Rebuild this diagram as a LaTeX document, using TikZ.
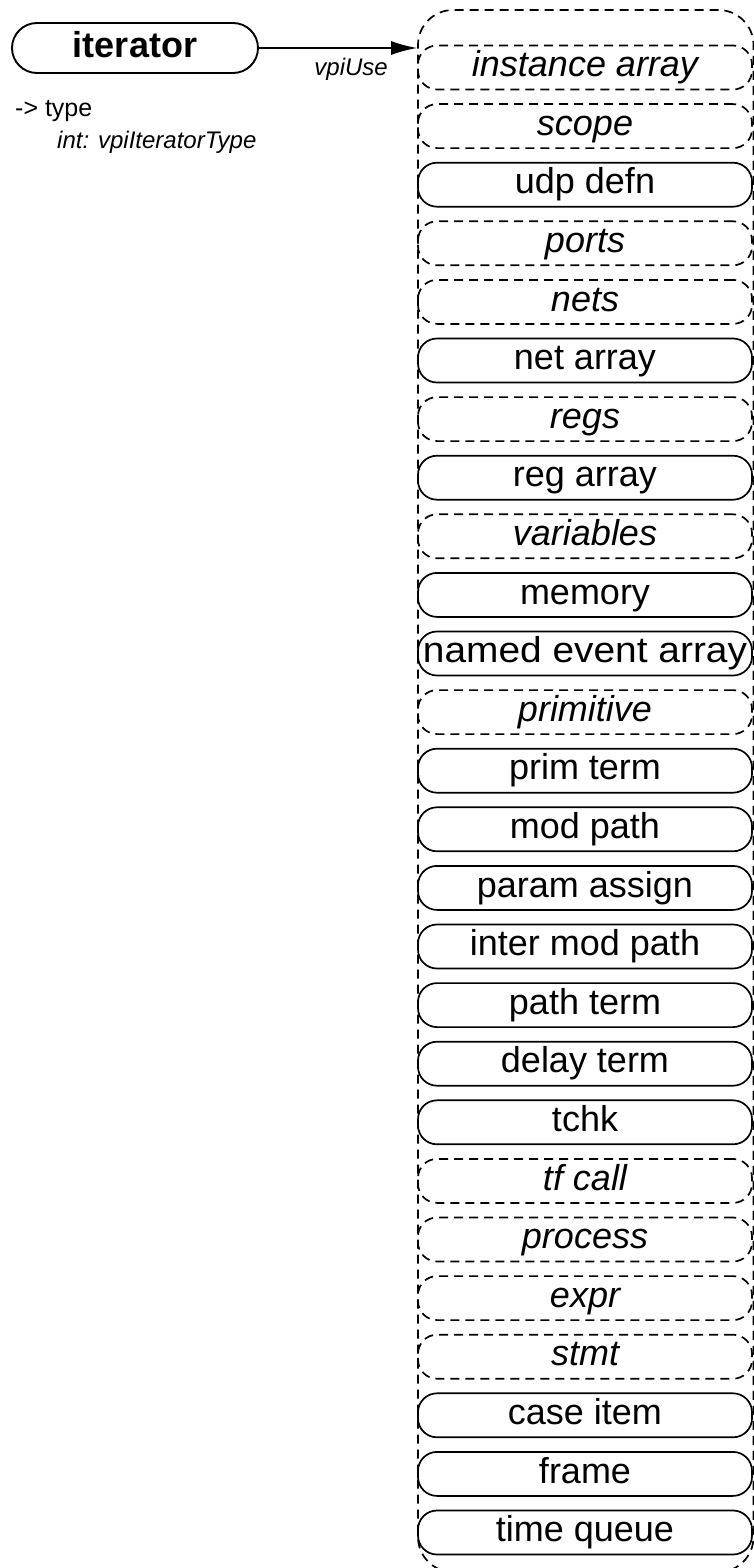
\documentclass[tikz,border=0pt]{standalone}
\usepackage{fontspec}
\setmainfont{Liberation Sans}
\usetikzlibrary{arrows.meta}
\newcommand\nealabel{\scalebox{1.08}[1]{named event array}}
\begin{document}
\begin{tikzpicture}[x=1pt,y=-1pt,
  objbox/.style={draw, line width=1.7pt, rounded corners=19pt,
    minimum width=334pt, minimum height=44pt, inner sep=0pt,
    text height=26pt, text depth=7.5pt, font=\fontsize{36}{40}\selectfont},
  classbox/.style={objbox, dash pattern=on 9pt off 6pt, font=\fontsize{36}{40}\selectfont\itshape},
  smalltext/.style={inner sep=0pt, font=\fontsize{25}{28}\selectfont},
  smallital/.style={inner sep=0pt, font=\fontsize{24}{28}\selectfont\itshape}
]
\useasboundingbox (0,0) rectangle (753,1568);
\node[draw, line width=1.7pt, dash pattern=on 9pt off 6pt, rounded corners=35pt,
  minimum width=335.5pt, minimum height=1562pt, inner sep=0pt] (outer) at (585.75,791) {};
\node[draw, line width=1.9pt, rounded corners=25pt, minimum width=246pt, minimum height=50pt,
  inner sep=0pt, text height=26pt, text depth=7.5pt, font=\fontsize{36}{40}\selectfont\bfseries] (iter) at (135,48) {iterator};
\draw[line width=1.7pt, -{Latex[length=26pt,width=14pt]}] (iter.east) -- (iter.east -| outer.west);
\node[smallital, anchor=base east] (use) at (388,76) {vpiUse};
\node[smalltext, anchor=base west] (type) at (15,117) {-> type};
\node[smallital, anchor=base west] (itype) at (57,148) {int: vpiIteratorType};
\foreach \lbl/\sty [count=\i from 0] in {instance array/classbox, scope/classbox, udp defn/objbox,
  ports/classbox, nets/classbox, net array/objbox, regs/classbox, reg array/objbox,
  variables/classbox, memory/objbox, \nealabel/objbox, primitive/classbox,
  prim term/objbox, mod path/objbox, param assign/objbox, inter mod path/objbox,
  path term/objbox, delay term/objbox, tchk/objbox, tf call/classbox, process/classbox,
  expr/classbox, stmt/classbox, case item/objbox, frame/objbox, time queue/objbox}
  \node[\sty] (b\i) at (585,{67.5+58.6*\i}) {\lbl};
\end{tikzpicture}
\end{document}
